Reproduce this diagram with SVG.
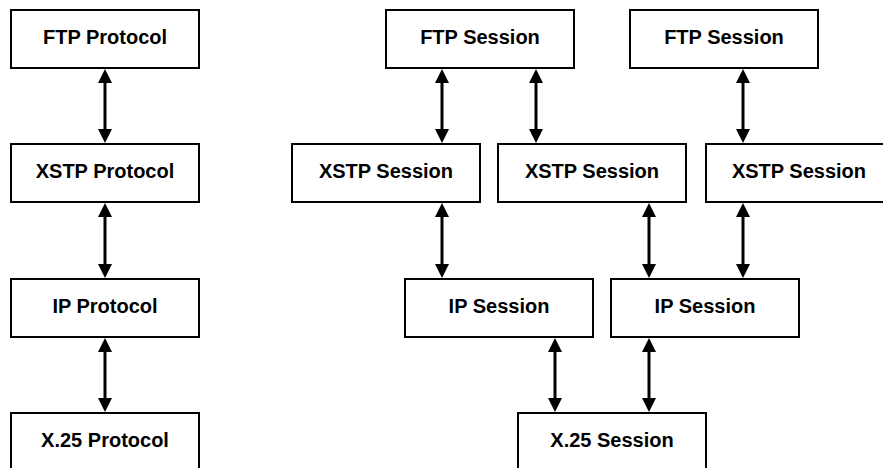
<svg xmlns="http://www.w3.org/2000/svg" width="883" height="468" viewBox="0 0 883 468">
<style>
.box{fill:#fff;stroke:#000;stroke-width:2}
.lbl{font-family:"Liberation Sans",Arial,sans-serif;font-weight:bold;font-size:20px;fill:#000;text-anchor:middle}
.conn{stroke:#000;stroke-width:3;fill:none;marker-start:url(#ah);marker-end:url(#ah)}
</style>
<defs>
<marker id="ah" viewBox="0 0 14 14" refX="4" refY="7" markerWidth="14" markerHeight="14" markerUnits="userSpaceOnUse" orient="auto-start-reverse">
<path d="M0,0 L14,7 L0,14 Z" fill="#000"/>
</marker>
</defs>
<rect width="883" height="468" fill="#fff"/>
<g id="ftp-protocol"><rect class="box" x="11" y="10" width="188" height="58"/><text class="lbl" x="105" y="44">FTP Protocol</text></g>
<g id="xstp-protocol"><rect class="box" x="11" y="144" width="188" height="58"/><text class="lbl" x="105" y="178">XSTP Protocol</text></g>
<g id="ip-protocol"><rect class="box" x="11" y="279" width="188" height="58"/><text class="lbl" x="105" y="313">IP Protocol</text></g>
<g id="x25-protocol"><rect class="box" x="11" y="413" width="188" height="58"/><text class="lbl" x="105" y="447">X.25 Protocol</text></g>
<g id="ftp-session-1"><rect class="box" x="386" y="10" width="188" height="58"/><text class="lbl" x="480" y="44">FTP Session</text></g>
<g id="ftp-session-2"><rect class="box" x="630" y="10" width="188" height="58"/><text class="lbl" x="724" y="44">FTP Session</text></g>
<g id="xstp-session-1"><rect class="box" x="292" y="144" width="188" height="58"/><text class="lbl" x="386" y="178">XSTP Session</text></g>
<g id="xstp-session-2"><rect class="box" x="498" y="144" width="188" height="58"/><text class="lbl" x="592" y="178">XSTP Session</text></g>
<g id="xstp-session-3"><rect class="box" x="706" y="144" width="188" height="58"/><text class="lbl" x="799" y="178">XSTP Session</text></g>
<g id="ip-session-1"><rect class="box" x="405" y="279" width="188" height="58"/><text class="lbl" x="499" y="313">IP Session</text></g>
<g id="ip-session-2"><rect class="box" x="611" y="279" width="188" height="58"/><text class="lbl" x="705" y="313">IP Session</text></g>
<g id="x25-session"><rect class="box" x="518" y="413" width="188" height="58"/><text class="lbl" x="612" y="447">X.25 Session</text></g>
<g id="connectors">
<line class="conn" x1="105" y1="79" x2="105" y2="133"/>
<line class="conn" x1="105" y1="213" x2="105" y2="268"/>
<line class="conn" x1="105" y1="348" x2="105" y2="402"/>
<line class="conn" x1="442" y1="79" x2="442" y2="133"/>
<line class="conn" x1="536" y1="79" x2="536" y2="133"/>
<line class="conn" x1="743" y1="79" x2="743" y2="133"/>
<line class="conn" x1="442" y1="213" x2="442" y2="268"/>
<line class="conn" x1="649" y1="213" x2="649" y2="268"/>
<line class="conn" x1="743" y1="213" x2="743" y2="268"/>
<line class="conn" x1="555" y1="348" x2="555" y2="402"/>
<line class="conn" x1="649" y1="348" x2="649" y2="402"/>
</g>
</svg>
